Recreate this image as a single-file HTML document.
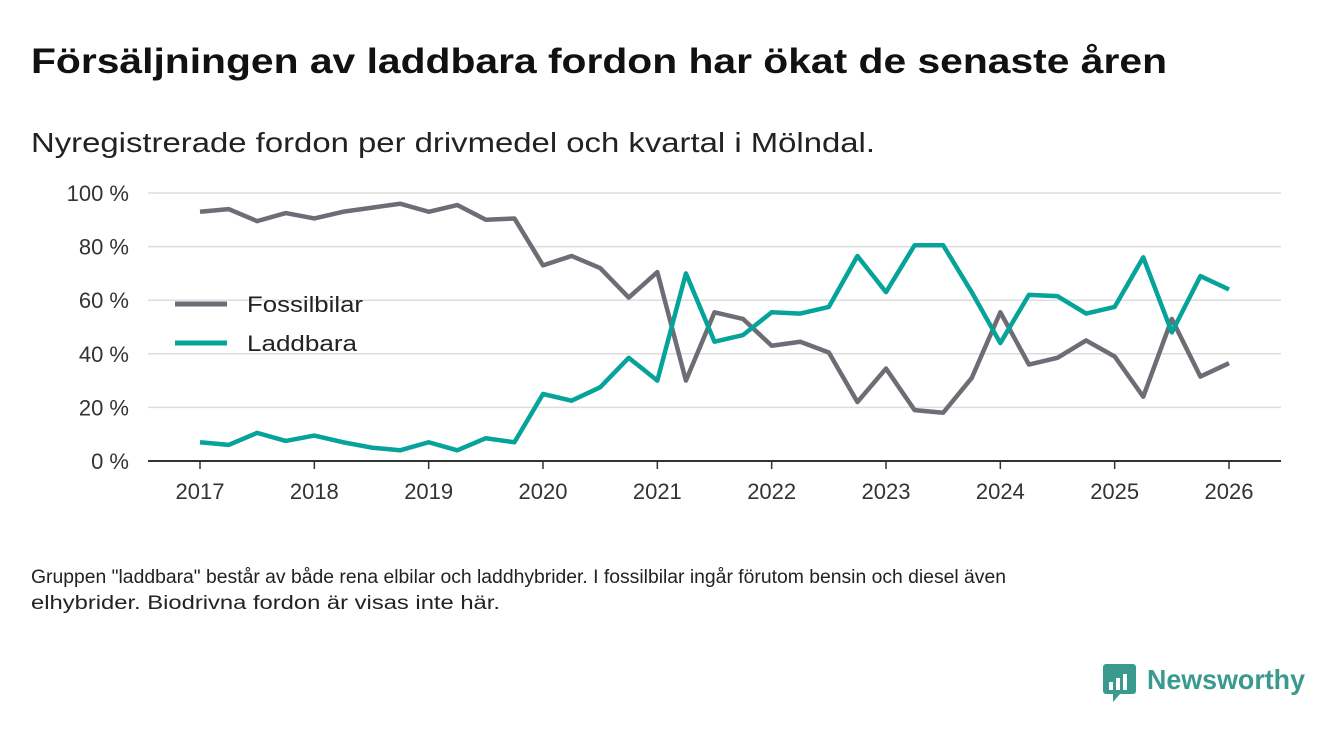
<!DOCTYPE html>
<html><head><meta charset="utf-8"><style>
body{margin:0;background:#fff;width:1340px;height:733px;overflow:hidden;font-family:"Liberation Sans",sans-serif;}
</style></head><body>
<svg width="1340" height="733" xmlns="http://www.w3.org/2000/svg">
<text x="31" y="73" font-size="35" font-weight="bold" fill="#111" textLength="1136" lengthAdjust="spacingAndGlyphs">Försäljningen av laddbara fordon har ökat de senaste åren</text>
<text x="31" y="152" font-size="28" fill="#222" textLength="844" lengthAdjust="spacingAndGlyphs">Nyregistrerade fordon per drivmedel och kvartal i Mölndal.</text>
<g id="grid"></g><g id="xt"></g><g id="lines"></g>
<g>
<line x1="175" y1="304" x2="227" y2="304" stroke="#6e6d75" stroke-width="5"/>
<text x="247" y="312" font-size="22" fill="#222" textLength="116" lengthAdjust="spacingAndGlyphs">Fossilbilar</text>
<line x1="175" y1="343" x2="227" y2="343" stroke="#06a39a" stroke-width="5"/>
<text x="247" y="351" font-size="22" fill="#222" textLength="110" lengthAdjust="spacingAndGlyphs">Laddbara</text>
</g>
<text x="31" y="583" font-size="19" fill="#222" textLength="975" lengthAdjust="spacingAndGlyphs">Gruppen "laddbara" består av både rena elbilar och laddhybrider. I fossilbilar ingår förutom bensin och diesel även</text>
<text x="31" y="609" font-size="19" fill="#222" textLength="469" lengthAdjust="spacingAndGlyphs">elhybrider. Biodrivna fordon är visas inte här.</text>
<g>
<rect x="1103" y="664" width="33" height="30" rx="3" fill="#3a9a8e"/>
<path d="M1113 694 L1120 694 L1113 702 Z" fill="#3a9a8e"/>
<rect x="1109" y="682" width="4" height="8" fill="#fff"/><rect x="1116" y="678" width="4" height="12" fill="#fff"/><rect x="1123" y="674" width="4" height="16" fill="#fff"/>
<text x="1147" y="689" font-size="28" font-weight="bold" fill="#3a9a8e" textLength="158" lengthAdjust="spacingAndGlyphs">Newsworthy</text>
</g>
</svg>
<script>
const years=["2017","2018","2019","2020","2021","2022","2023","2024","2025","2026"];
const yTicks=[0,20,40,60,80,100];
const fossil=[93,94,89.5,92.5,90.5,93,94.5,96,93,95.5,90,90.5,73,76.5,72,61,70.5,30,55.5,53,43,44.5,40.5,22,34.5,19,18,31,55.5,36,38.5,45,39,24,53,31.5,36.5];
const ladd=[7,6,10.5,7.5,9.5,7,5,4,7,4,8.5,7,25,22.5,27.5,38.5,30,70,44.5,47,55.5,55,57.5,76.5,63,80.5,80.5,63,44,62,61.5,55,57.5,76,48,69,64];
const NS="http://www.w3.org/2000/svg";
const x=i=>200+i*(1229-200)/36;
const y=v=>461-v*2.68;
function mk(t,a,p){const e=document.createElementNS(NS,t);for(const k in a)e.setAttribute(k,a[k]);p.appendChild(e);return e;}
const grid=document.getElementById('grid');
yTicks.forEach(v=>{
 const l=mk('line',{x1:148,x2:1281,y1:y(v),y2:y(v),stroke:v===0?'#333':'#ddd','stroke-width':v===0?2:1.5},grid);
 
 
 const t=mk('text',{x:129,y:y(v)+8,'font-size':22,fill:'#333','text-anchor':'end'},grid);
 t.textContent=v+' %';
 
 
});
const xt=document.getElementById('xt');
years.forEach((yr,k)=>{
 const xx=x(k*4);
 mk('line',{x1:xx,x2:xx,y1:461,y2:469,stroke:'#333','stroke-width':1.5},xt);
 const t=mk('text',{x:xx,y:499,'font-size':22,fill:'#333','text-anchor':'middle'},xt);
 t.textContent=yr;
 
 
});
const lines=document.getElementById('lines');
[[fossil,'#6e6d75','fossil-line'],[ladd,'#06a39a','laddbara-line']].forEach(([d,c,n])=>{
 const p=mk('polyline',{points:d.map((v,i)=>x(i)+','+y(v)).join(' '),fill:'none',stroke:c,'stroke-width':4.5,'stroke-linejoin':'round'},lines);
 
 
});
</script>
</body></html>
